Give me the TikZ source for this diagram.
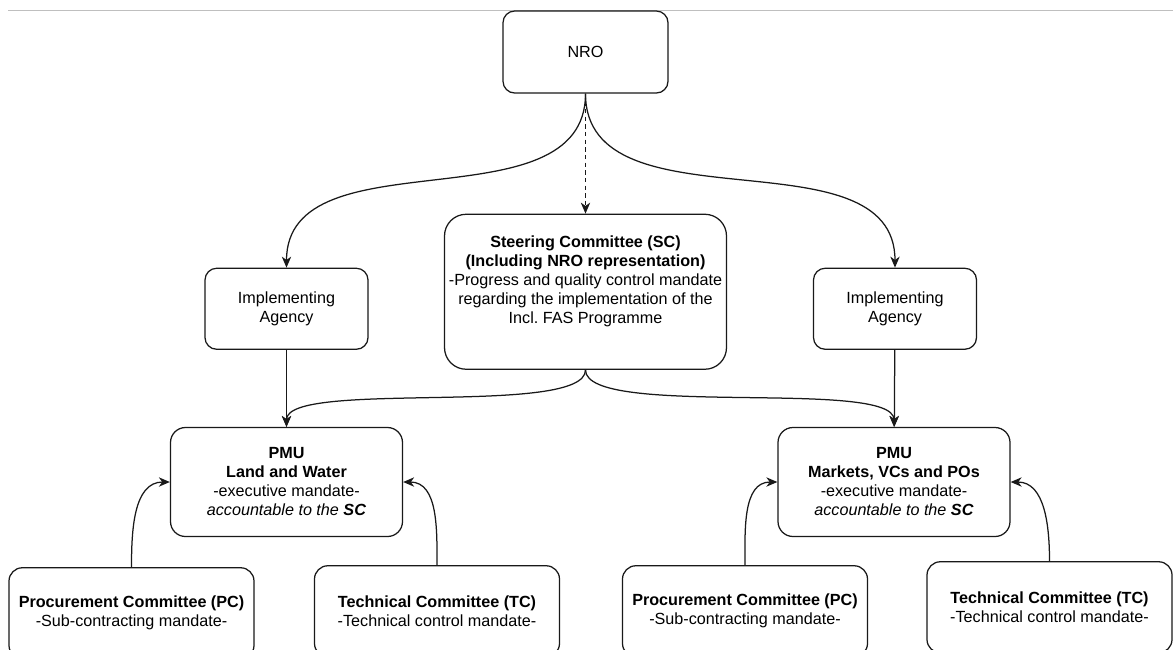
\documentclass[tikz,border=0pt]{standalone}
\usepackage{fontspec}
\setmainfont{Liberation Sans}
\usetikzlibrary{positioning}
\usetikzlibrary{arrows.meta}
\tikzstyle{unit} = [rectangle, rounded corners=7pt, draw=black!90, line width=0.75pt,
align=center, inner sep=2pt, font=\fontsize{9.7}{11.4}\selectfont]
\tikzstyle{agency} = [unit, minimum width=97.8pt, minimum height=48.6pt]
\tikzstyle{board} = [unit, rounded corners=13pt, inner xsep=1pt, minimum width=169.2pt, minimum height=93pt]
\tikzstyle{pmu} = [unit, rounded corners=9pt, minimum width=139.2pt, minimum height=65.4pt]
\tikzstyle{committee} = [unit, rounded corners=8pt, minimum width=147pt, minimum height=54.6pt]
\tikzset{>={Stealth[length=6.6pt,width=5.6pt,inset=2pt]}}
\newcommand{\edge}[3][]{ %
  % Connect all nodes #2 to all nodes #3.
  \foreach \x in {#2} { %
    \foreach \y in {#3} { %
      \path (\x) edge [->,#1] (\y) ;%
    } ;
  } ;
}

\begin{document}
\begin{tikzpicture}[every edge/.style={draw, line width=0.75pt, black!90}]
  \useasboundingbox (0,0) rectangle (703.8pt,-389.4pt);
  \draw[black!25, line width=0.8pt] (4.8pt,-6.3pt) -- (703.8pt,-6.3pt);

  \node[unit, minimum width=99pt, minimum height=49.2pt] (nro) at (351.3pt,-31.2pt) {NRO};
  \node[board, below=72pt of nro] (sc) {\textbf{Steering Committee (SC)}\\
    \textbf{(Including NRO representation)}\\
    -Progress and quality control mandate\\
    regarding the implementation of the\\
    Incl.\ FAS Programme\\ \strut};
  \node[agency, below=104.4pt of nro, xshift=-179.4pt] (ial) {Implementing\\Agency};
  \node[agency, below=104.4pt of nro, xshift=185.7pt] (iar) {Implementing\\Agency};

  \node[pmu, below=46.2pt of ial] (pmul) {\textbf{PMU}\\\textbf{Land and Water}\\
    -executive mandate-\\\textit{accountable to the \textbf{SC}}};
  \node[pmu, below=46.2pt of iar, xshift=-0.6pt] (pmur) {\textbf{PMU}\\\textbf{Markets, VCs and POs}\\
    -executive mandate-\\\textit{accountable to the \textbf{SC}}};

  \node[committee, below=18pt of pmul, xshift=-93pt] (pcl) {\textbf{Procurement Committee (PC)}\\-Sub-contracting mandate-};
  \node[committee, below=16.8pt of pmul, xshift=90.3pt] (tcl) {\textbf{Technical Committee (TC)}\\-Technical control mandate-};
  \node[committee, below=16.8pt of pmur, xshift=-89.4pt] (pcr) {\textbf{Procurement Committee (PC)}\\-Sub-contracting mandate-};
  \node[committee, below=14.4pt of pmur, xshift=93.3pt] (tcr) {\textbf{Technical Committee (TC)}\\-Technical control mandate-};

  \edge [out=-90, in=90] {nro} {ial,iar};
  \edge [dashed, dash pattern=on 2.6pt off 2pt] {nro} {sc};
  \edge {ial} {pmul};
  \edge {iar} {pmur};
  \edge [out=-90, in=90, looseness=0.4] {sc} {pmul,pmur};
  \edge [out=90, in=180] {pcl} {pmul};
  \edge [out=90, in=0] {tcl} {pmul};
  \edge [out=90, in=180] {pcr} {pmur};
  \edge [out=90, in=0] {tcr} {pmur};
\end{tikzpicture}
\end{document}
